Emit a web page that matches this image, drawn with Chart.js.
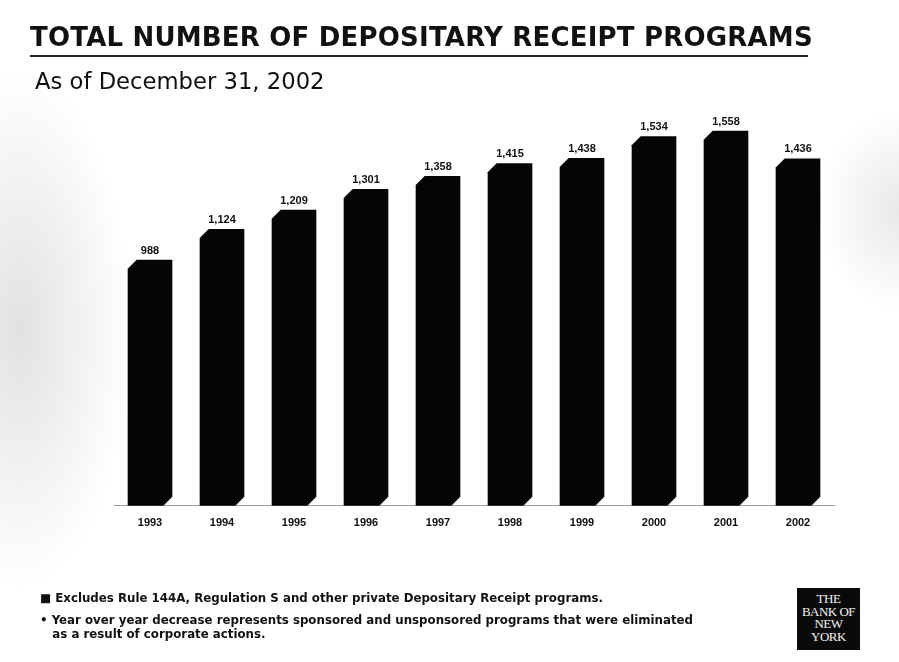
<!DOCTYPE html>
<html>
<head>
<meta charset="utf-8">
<script src="https://cdn.jsdelivr.net/npm/chart.js@4.4.1/dist/chart.umd.min.js"></script>
<style>
  html, body { margin: 0; padding: 0; }
  body {
    width: 899px; height: 662px; position: relative; overflow: hidden;
    background:
      radial-gradient(ellipse 110px 260px at 20px 330px, rgba(170,170,170,0.35), rgba(255,255,255,0) 100%),
      radial-gradient(ellipse 80px 100px at 899px 210px, rgba(180,180,180,0.3), rgba(255,255,255,0) 100%),
      #ffffff;
    font-family: "DejaVu Sans", Verdana, sans-serif;
  }
  #chartWrap { position: absolute; left: 0; top: 0; width: 899px; height: 662px; }
  .title {
    position: absolute; left: 30px; top: 22px; margin: 0;
    font-size: 26px; font-weight: bold; color: #111; white-space: nowrap; letter-spacing: 0.2px;
  }
  .rule { position: absolute; left: 30px; top: 55px; width: 778px; height: 2px; background: #222; }
  .subtitle {
    position: absolute; left: 35px; top: 68px; margin: 0;
    font-size: 22.7px; color: #111; white-space: nowrap; font-weight: normal;
  }
  .note {
    position: absolute; left: 40px; font-size: 11.8px; font-weight: bold; color: #111;
    white-space: nowrap; line-height: 14px;
  }
  .logo {
    position: absolute; left: 797px; top: 588px; width: 63px; height: 62px; background: #0a0a0a;
    color: #f2f2f2; font-family: "Liberation Serif", "DejaVu Serif", serif; font-size: 13px;
    line-height: 12.5px; text-align: center; padding-top: 5px; box-sizing: border-box; letter-spacing: -0.5px;
  }
</style>
</head>
<body>
<div id="chartWrap"><canvas id="drChart" width="899" height="662"></canvas></div>
<h1 class="title">TOTAL NUMBER OF DEPOSITARY RECEIPT PROGRAMS</h1>
<div class="rule"></div>
<h2 class="subtitle">As of December 31, 2002</h2>
<div class="note" style="top:591px">&#9632; Excludes Rule 144A, Regulation S and other private Depositary Receipt programs.</div>
<div class="note" style="top:613px">&#8226; Year over year decrease represents sponsored and unsponsored programs that were eliminated<br>&nbsp;&nbsp;&nbsp;as a result of corporate actions.</div>
<div class="logo">THE<br>BANK OF<br>NEW<br>YORK</div>
<script>
const years = ["1993", "1994", "1995", "1996", "1997", "1998", "1999", "2000", "2001", "2002"];
const programCounts = [988, 1124, 1209, 1301, 1358, 1415, 1438, 1534, 1558, 1436];

const BAR_COLOR = "#050505";
const BEVEL = 9;

// draws each bar as a chamfered block (front face + depth offset up-right)
const blockBars = {
  id: "blockBars",
  afterDatasetsDraw(chart) {
    const { ctx, chartArea } = chart;
    const meta = chart.getDatasetMeta(0);

    ctx.save();
    meta.data.forEach((bar, i) => {
      const left = bar.x - bar.width / 2;
      const right = bar.x + bar.width / 2;
      const top = bar.y;
      const bottom = chartArea.bottom;

      ctx.fillStyle = BAR_COLOR;
      ctx.beginPath();
      ctx.moveTo(left, top + BEVEL);
      ctx.lineTo(left + BEVEL, top);
      ctx.lineTo(right, top);
      ctx.lineTo(right, bottom - BEVEL);
      ctx.lineTo(right - BEVEL, bottom);
      ctx.lineTo(left, bottom);
      ctx.closePath();
      ctx.fill();

      ctx.fillStyle = "#111";
      ctx.font = "bold 11px 'Liberation Sans', Arial, sans-serif";
      ctx.textAlign = "center";
      ctx.textBaseline = "alphabetic";
      ctx.fillText(programCounts[i].toLocaleString("en-US"), bar.x, top - 6);
    });
    ctx.restore();
  },
};

new Chart(document.getElementById("drChart"), {
  type: "bar",
  data: {
    labels: years,
    datasets: [
      {
        label: "Depositary Receipt programs",
        data: programCounts,
        backgroundColor: "rgba(0,0,0,0)",
        barPercentage: 0.62,
        categoryPercentage: 1,
      },
    ],
  },
  options: {
    responsive: false,
    animation: false,
    layout: { padding: { left: 114, right: 65, top: 110, bottom: 129 } },
    scales: {
      x: {
        grid: { display: false },
        border: { display: true, color: "#9a9a9a", width: 1, dash: [1, 2] },
        ticks: {
          color: "#111",
          padding: 3,
          font: { family: "'Liberation Sans', Arial, sans-serif", size: 11, weight: "bold" },
        },
      },
      y: {
        display: false,
        min: -100,
        max: 1650,
      },
    },
    plugins: {
      legend: { display: false },
      tooltip: { enabled: false },
    },
  },
  plugins: [blockBars],
});
</script>
</body>
</html>
